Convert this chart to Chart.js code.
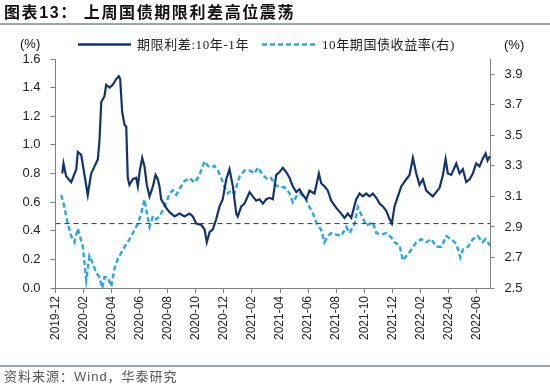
<!DOCTYPE html>
<html><head><meta charset="utf-8">
<script src="https://cdn.jsdelivr.net/npm/chart.js@4/dist/chart.umd.min.js"></script>
<style>
html,body{margin:0;padding:0;background:#fff;}
#wrap{position:relative;width:550px;height:388px;overflow:hidden;font-family:"Liberation Sans",Arial,sans-serif;background:#fff;}
#c{position:absolute;left:0;top:0;}
.abs{position:absolute;white-space:nowrap;}
.title{left:4px;top:2px;font-family:"Liberation Sans","Noto Sans CJK SC",sans-serif;font-weight:bold;font-size:16px;letter-spacing:1.6px;color:#111;line-height:22px;}
.rule{position:absolute;left:0;width:550px;height:2px;background:#9ba6b6;}
.leg{font-family:"Liberation Serif","Noto Sans CJK SC",serif;font-size:13px;color:#222;line-height:16px;letter-spacing:0.6px;}
.unit{font-size:13px;color:#111;line-height:16px;}
.foot{left:4px;top:369px;font-family:"Liberation Sans","Noto Sans CJK SC",sans-serif;font-size:13px;color:#555;letter-spacing:1px;line-height:16px;}
</style></head>
<body>
<div id="wrap">
  <canvas id="c" width="550" height="388"></canvas>
  <div class="abs title">图表13：&nbsp;上周国债期限利差高位震荡</div>
  <div class="rule" style="top:23px"></div>
  <div class="abs unit" style="left:20px;top:36px">(%)</div>
  <div class="abs unit" style="left:504px;top:37px">(%)</div>
  <svg class="abs" style="left:78px;top:40px" width="60" height="10"><line x1="0" y1="4.5" x2="53" y2="4.5" stroke="#13336b" stroke-width="2.5"/></svg>
  <div class="abs leg" style="left:137px;top:37px">期限利差:10年-1年</div>
  <svg class="abs" style="left:262px;top:40px" width="60" height="10"><line x1="0" y1="4.5" x2="54" y2="4.5" stroke="#2aa7dd" stroke-width="2.5" stroke-dasharray="5,3"/></svg>
  <div class="abs leg" style="left:322px;top:37px">10年期国债收益率(右)</div>
  <div class="rule" style="top:365px;height:2px"></div>
  <div class="abs foot">资料来源：Wind，华泰研究</div>
</div>
<script>
// x tick labels, every 2 months starting 2019-12 (month offset 0)
const monthLabels = ['2019-12','2020-02','2020-04','2020-06','2020-08','2020-10','2020-12','2021-02','2021-04','2021-06','2021-08','2021-10','2021-12','2022-02','2022-04','2022-06'];
const leftTicks = [0,0.2,0.4,0.6,0.8,1.0,1.2,1.4,1.6];
const rightTicks = [2.5,2.7,2.9,3.1,3.3,3.5,3.7,3.9];
const refLevel = 0.45;

// months since 2019-12-01
const spreadMonths = [0.48,0.57,0.76,1.12,1.48,1.59,1.83,2.00,2.30,2.54,2.78,3.02,3.14,3.26,3.49,3.61,3.85,4.08,4.33,4.51,4.61,4.75,4.92,5.04,5.15,5.27,5.51,5.75,5.87,5.99,6.18,6.34,6.51,6.70,6.94,7.13,7.29,7.41,7.53,7.89,8.13,8.48,8.84,9.19,9.55,9.79,10.03,10.39,10.62,10.78,10.98,11.21,11.45,11.69,11.92,12.17,12.40,12.64,12.88,12.99,13.24,13.47,13.83,14.06,14.30,14.54,14.78,15.02,15.25,15.49,15.73,15.97,16.20,16.44,16.68,16.91,17.16,17.39,17.63,17.87,18.10,18.46,18.77,18.94,19.17,19.41,19.65,20.01,20.36,20.60,20.83,21.08,21.43,21.67,21.90,22.14,22.38,22.62,22.86,23.09,23.33,23.57,23.81,23.97,24.16,24.40,24.64,25.00,25.23,25.47,25.71,25.94,26.18,26.42,26.66,26.89,27.13,27.37,27.61,27.80,27.96,28.20,28.56,28.80,29.03,29.27,29.51,29.74,29.98,30.22,30.43,30.65,30.79,30.95];
const spreadValues = [0.80,0.87,0.78,0.74,0.83,0.95,0.93,0.83,0.65,0.80,0.85,0.90,1.04,1.30,1.34,1.42,1.40,1.42,1.46,1.48,1.46,1.23,1.14,1.13,0.77,0.72,0.76,0.77,0.71,0.81,0.91,0.85,0.72,0.64,0.71,0.79,0.76,0.71,0.62,0.56,0.53,0.50,0.52,0.50,0.52,0.50,0.45,0.44,0.41,0.32,0.39,0.41,0.48,0.57,0.62,0.76,0.83,0.71,0.52,0.50,0.57,0.59,0.67,0.64,0.61,0.62,0.59,0.62,0.63,0.62,0.79,0.81,0.84,0.81,0.77,0.71,0.67,0.69,0.65,0.62,0.68,0.66,0.80,0.73,0.71,0.68,0.61,0.56,0.52,0.49,0.52,0.49,0.62,0.66,0.64,0.66,0.64,0.66,0.63,0.59,0.57,0.54,0.48,0.45,0.57,0.64,0.71,0.76,0.79,0.91,0.80,0.72,0.76,0.68,0.66,0.64,0.67,0.70,0.79,0.90,0.80,0.79,0.87,0.80,0.83,0.74,0.76,0.80,0.87,0.85,0.90,0.94,0.89,0.92];

const yieldMonths = [0.41,0.64,0.76,0.88,1.12,1.35,1.59,1.83,1.95,2.19,2.42,2.66,2.90,3.14,3.33,3.49,3.73,3.97,4.21,4.44,4.68,4.92,5.15,5.40,5.63,5.87,6.11,6.34,6.51,6.70,6.94,7.18,7.41,7.65,7.89,8.13,8.36,8.60,8.84,9.19,9.55,9.91,10.26,10.62,10.86,11.10,11.33,11.57,11.81,12.05,12.28,12.52,12.76,13.11,13.47,13.83,14.18,14.42,14.78,15.13,15.37,15.61,15.97,16.32,16.68,16.91,17.16,17.39,17.75,18.10,18.34,18.62,18.94,19.17,19.41,19.65,20.01,20.36,20.72,20.96,21.31,21.55,21.79,22.14,22.38,22.62,22.86,23.21,23.57,23.93,24.16,24.52,24.75,25.00,25.35,25.71,26.07,26.42,26.78,27.13,27.49,27.85,28.20,28.56,28.85,29.03,29.39,29.74,30.10,30.43,30.65,30.95];
const yieldValues = [3.11,3.03,2.97,2.92,2.84,2.80,2.89,2.81,2.77,2.55,2.71,2.66,2.60,2.57,2.50,2.57,2.57,2.51,2.63,2.69,2.73,2.77,2.80,2.84,2.88,2.92,2.99,3.08,2.99,2.90,2.97,2.95,2.97,3.01,3.06,3.12,3.14,3.11,3.15,3.20,3.22,3.19,3.24,3.33,3.30,3.29,3.30,3.27,3.22,3.16,3.12,3.14,3.12,3.23,3.27,3.27,3.25,3.29,3.24,3.21,3.22,3.18,3.16,3.16,3.12,3.06,3.10,3.12,3.10,3.03,2.99,2.92,2.88,2.80,2.84,2.86,2.85,2.84,2.90,2.86,2.92,3.03,2.98,2.91,2.92,2.93,2.86,2.85,2.86,2.83,2.80,2.78,2.68,2.71,2.75,2.80,2.82,2.80,2.82,2.77,2.77,2.84,2.82,2.79,2.70,2.75,2.77,2.82,2.84,2.80,2.82,2.78];

const X_MAX = 31;
const AX = '#808080';
const FONT = '"Liberation Sans", Arial, sans-serif';

new Chart(document.getElementById('c'), {
  type: 'line',
  data: {
    datasets: [
      {
        label: '10年期国债收益率(右)',
        data: yieldMonths.map((m, i) => ({x: m, y: yieldValues[i]})),
        yAxisID: 'y1', borderColor: '#2aa7dd', borderWidth: 2.4, borderDash: [5, 3],
        pointRadius: 0, tension: 0, fill: false, order: 2
      },
      {
        label: '期限利差:10年-1年',
        data: spreadMonths.map((m, i) => ({x: m, y: spreadValues[i]})),
        yAxisID: 'y', borderColor: '#13336b', borderWidth: 2.2,
        pointRadius: 0, tension: 0, fill: false, order: 1
      },
      {
        label: 'ref',
        data: [{x: 0, y: refLevel}, {x: X_MAX, y: refLevel}],
        yAxisID: 'y', borderColor: '#333', borderWidth: 1, borderDash: [5, 4],
        pointRadius: 0, tension: 0, fill: false, order: 0
      }
    ]
  },
  options: {
    responsive: false, animation: false,
    layout: {padding: {top: 59, left: 0, right: 0, bottom: 45}},
    plugins: {legend: {display: false}, tooltip: {enabled: false}, title: {display: false}},
    scales: {
      x: {
        type: 'linear', min: 0, max: X_MAX, position: 'bottom',
        afterBuildTicks: s => { s.ticks = monthLabels.map((_, i) => ({value: i * 2})); },
        afterFit: s => { s.height = 55; },
        ticks: {autoSkip: false, maxRotation: 90, minRotation: 90, padding: 3, color: '#222',
          font: {family: FONT, size: 12}, callback: v => monthLabels[Math.round(v / 2)]},
        grid: {drawOnChartArea: false, drawTicks: true, tickLength: 5, color: AX},
        border: {display: true, color: AX, width: 1}
      },
      y: {
        position: 'left', min: 0, max: 1.6,
        afterBuildTicks: s => { s.ticks = leftTicks.map(v => ({value: v})); },
        afterFit: s => { s.width = 55.5; },
        ticks: {padding: 10, color: '#222', font: {family: FONT, size: 13}, callback: v => Number(v).toFixed(1)},
        grid: {drawOnChartArea: false, drawTicks: true, tickLength: 5, color: AX},
        border: {display: true, color: AX, width: 1}
      },
      y1: {
        position: 'right', min: 2.5, max: 4.0,
        afterBuildTicks: s => { s.ticks = rightTicks.map(v => ({value: v})); },
        afterFit: s => { s.width = 59.5; },
        ticks: {padding: 10, color: '#222', font: {family: FONT, size: 13}, callback: v => Number(v).toFixed(1)},
        grid: {drawOnChartArea: false, drawTicks: true, tickLength: 4, color: AX},
        border: {display: true, color: AX, width: 1}
      }
    }
  }
});
</script>
</body></html>
